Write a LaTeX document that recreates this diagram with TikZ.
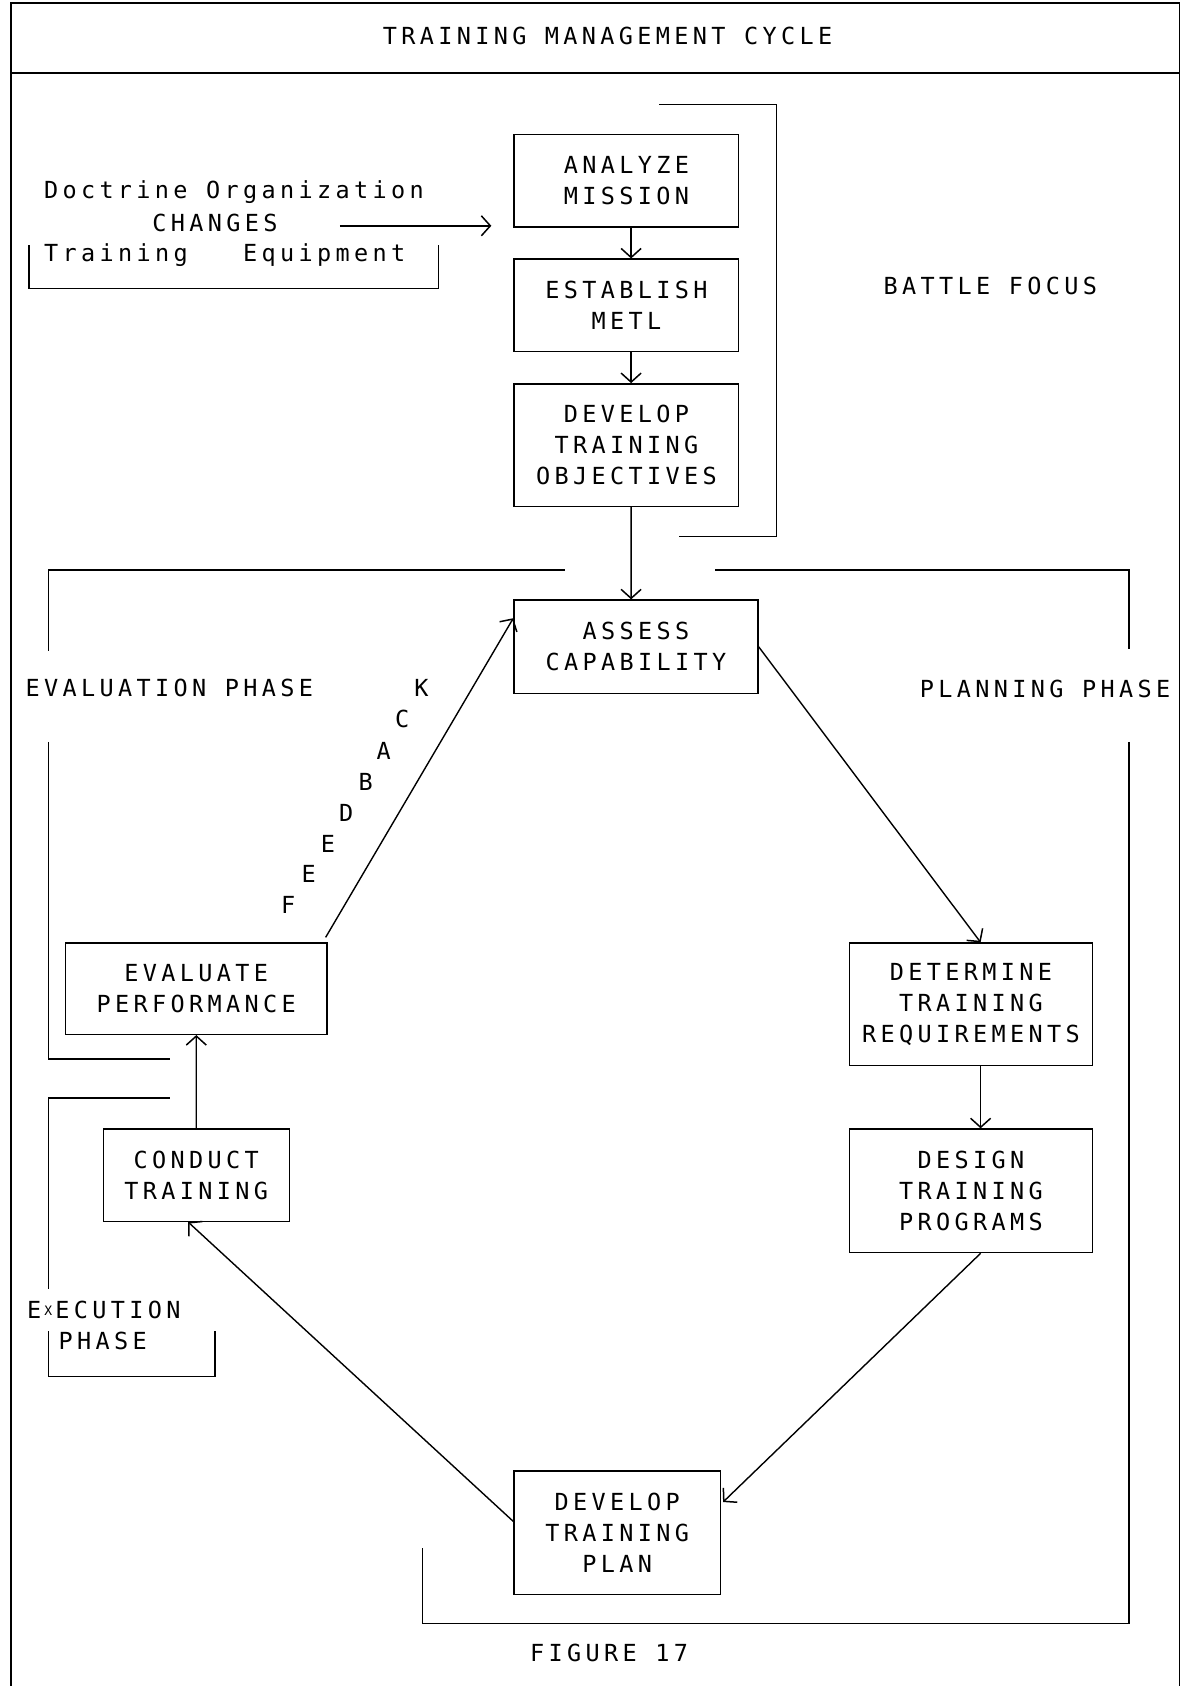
\documentclass[tikz,border=0pt]{standalone}
\usepackage{fontspec}
\usetikzlibrary{arrows.meta}
\newfontfamily\plotfamily{DejaVu Sans Mono}[LetterSpace=18.5]
\newcommand\plotfont{\plotfamily\fontsize{23.5pt}{31pt}\selectfont}
\begin{document}
\begin{tikzpicture}[x=1pt,y=-1pt,
  every node/.style={font=\plotfont, inner sep=0pt},
  box/.style={draw, line width=1.4pt, align=center},
  arr/.style={line width=1.4pt, -{Straight Barb[length=9pt,width=20pt,line width=1.5pt]}},
  rule/.style={line width=1.4pt}]
\useasboundingbox (0,0) rectangle (1187,1686);

% outer frame and title strip
\draw[rule] (10.8,1686) -- (10.8,3.2) -- (1179.5,3.2) -- (1179.5,1686);
\draw[rule] (10.8,73.1) -- (1179.5,73.1);
\node (title) at (607.5,35.5) {TRAINING MANAGEMENT CYCLE};

% external changes
\node (doc) at (233.9,192.5) {Doctrine Organization};
\node (chg) at (215,222.6) {CHANGES};
\node (teq) at (224.7,254.8) {Training\ \ \ Equipment};
\draw[rule] (29,245) -- (29,288.2) -- (438.7,288.2) -- (438.7,245);
\coordinate (chgstart) at (339.8,225.8);

% boxes
\node[box, minimum width=224.7pt, minimum height=92.5pt] (am) at (626.4,180.6) {ANALYZE\\MISSION};
\node[box, minimum width=224.7pt, minimum height=92.5pt] (em) at (626.4,305.4) {ESTABLISH\\METL};
\node[box, minimum width=224.7pt, minimum height=122.6pt] (dobj) at (626.4,445.1) {DEVELOP\\TRAINING\\OBJECTIVES};
\node[box, minimum width=244pt, minimum height=93.5pt] (ac) at (636,646.8) {ASSESS\\CAPABILITY};
\node[box, minimum width=243pt, minimum height=122.5pt] (dr) at (970.9,1004.3) {DETERMINE\\TRAINING\\REQUIREMENTS};
\node[box, minimum width=243pt, minimum height=123.6pt] (dp) at (970.9,1190.8) {DESIGN\\TRAINING\\PROGRAMS};
\node[box, minimum width=206.4pt, minimum height=123.6pt] (dtp) at (617.2,1532.7) {DEVELOP\\TRAINING\\PLAN};
\node[box, minimum width=186pt, minimum height=92.4pt] (ct) at (196.2,1175.2) {CONDUCT\\TRAINING};
\node[box, minimum width=261.3pt, minimum height=91.3pt] (ep) at (196.3,988.7) {EVALUATE\\PERFORMANCE};

% connectors
\draw[arr] (chgstart) -- ([xshift=-22pt]am.south west |- chgstart);
\draw[arr] ([xshift=4.7pt]am.south) -- ([xshift=4.7pt]em.north);
\draw[arr] ([xshift=4.7pt]em.south) -- ([xshift=4.7pt]dobj.north);
\draw[arr] ([xshift=4.7pt]dobj.south) -- ([xshift=-4.9pt]ac.north);
\draw[arr] (ac.east) -- ([xshift=9.7pt]dr.north);
\draw[arr] ([xshift=9.7pt]dr.south) -- ([xshift=9.7pt]dp.north);
\draw[arr] ([xshift=9.7pt]dp.south) -- ([yshift=30.7pt,xshift=2pt]dtp.east);
\draw[arr] ([yshift=11.3pt]dtp.west) -- ([xshift=-8pt]ct.south);
\draw[arr] (ct.north) -- (ep.south);
\draw[arr] ([xshift=-2pt,yshift=5pt]ep.north east) -- ([yshift=28.6pt]ac.west);

% feedback lettering along the return arrow
\node (fb1) at (288.2,905.3) {F};
\node (fb2) at (308.6,874.1) {E};
\node (fb3) at (327.9,844) {E};
\node (fb4) at (346.2,812.9) {D};
\node (fb5) at (365.6,781.7) {B};
\node (fb6) at (383.8,750.5) {A};
\node (fb7) at (402.1,719.3) {C};
\node (fb8) at (421.5,688.1) {K};

% battle focus bracket
\draw[rule] (659.1,104.3) -- (776.3,104.3) -- (776.3,536.5) -- (678.5,536.5);
\node (bf) at (990.3,286) {BATTLE FOCUS};

% phase brackets
\draw[rule] (48.4,650.5) -- (48.4,569.9) -- (564.5,569.9);
\draw[rule] (715,569.9) -- (1129,569.9) -- (1129,649.4);
\draw[rule] (48.4,741.9) -- (48.4,1059) -- (169.9,1059);
\draw[rule] (1129,741.9) -- (1129,1623.6) -- (422.6,1623.6) -- (422.6,1548.3);
\node (evp) at (169.3,688.1) {EVALUATION PHASE};
\node (plp) at (1045.1,689.2) {PLANNING PHASE};

% execution bracket
\draw[rule] (169.9,1097.8) -- (48.4,1097.8) -- (48.4,1289.2);
\draw[rule] (48.4,1331) -- (48.4,1376.3) -- (215,1376.3) -- (215,1331);
\node (exe) at (103.8,1309.6) {E\makebox[14pt]{\raisebox{3pt}{\plotfamily\fontsize{13pt}{13pt}\selectfont X}}ECUTION};
\node (exp) at (102.7,1340.8) {PHASE};

% caption
\node (fig) at (609.1,1652.6) {FIGURE 17};
\end{tikzpicture}
\end{document}
